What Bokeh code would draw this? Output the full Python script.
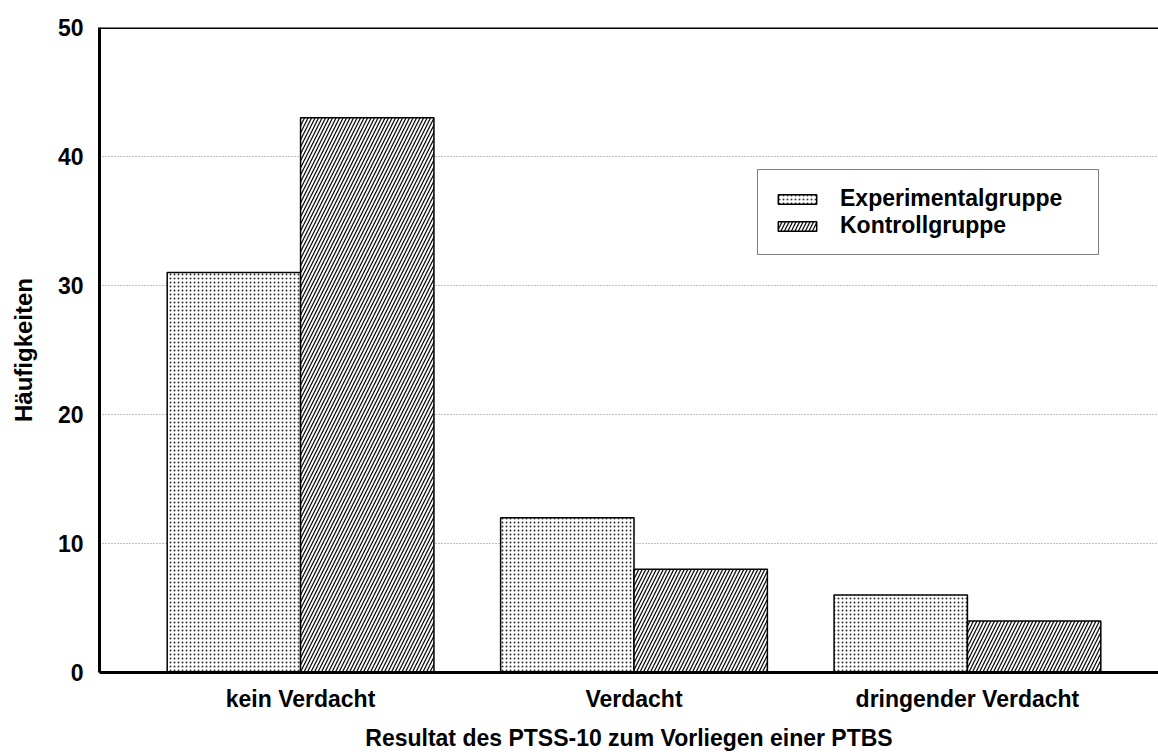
from bokeh.plotting import figure
from bokeh.models import (Range1d, FixedTicker, Span, Legend, LegendItem, ColumnDataSource)
from bokeh.embed import file_html
from bokeh.resources import INLINE

categories = ["kein Verdacht", "Verdacht", "dringender Verdacht"]
experimental = [31, 12, 6]
kontroll = [43, 8, 4]
series_names = ["Experimentalgruppe", "Kontrollgruppe"]
y_ticks = [0, 10, 20, 30, 40, 50]
x_title = "Resultat des PTSS-10 zum Vorliegen einer PTBS"
y_title = "Häufigkeiten"

FONT = "Liberation Sans"
idx = list(range(len(categories)))
bar_w = 0.4

p = figure(width=1158, height=756, output_backend="svg", toolbar_location=None,
           x_range=Range1d(-0.603, 2.573), y_range=Range1d(0, 50),
           min_border_left=99, min_border_right=0, min_border_top=27, min_border_bottom=84)
p.outline_line_color = None
p.background_fill_color = "white"
p.border_fill_color = "white"

src_e = ColumnDataSource(dict(x=[i - bar_w / 2 for i in idx], top=experimental))
src_k = ColumnDataSource(dict(x=[i + bar_w / 2 for i in idx], top=kontroll))

r1 = p.vbar(x="x", top="top", bottom=0, width=bar_w, source=src_e,
            fill_color="white", line_color="black", line_width=1.5,
            hatch_pattern="dot", hatch_scale=4, hatch_color="#333333", hatch_weight=1)
r2 = p.vbar(x="x", top="top", bottom=0, width=bar_w, source=src_k,
            fill_color="white", line_color="black", line_width=1.5,
            hatch_pattern="right_diagonal_line", hatch_scale=7, hatch_color="#111111", hatch_weight=1.3)

# axes
p.xaxis.ticker = FixedTicker(ticks=idx)
p.xaxis.major_label_overrides = {i: c for i, c in zip(idx, categories)}
p.yaxis.ticker = FixedTicker(ticks=y_ticks)
for ax in (p.xaxis[0], p.yaxis[0]):
    ax.axis_line_width = 3
    ax.axis_line_color = "black"
    ax.major_tick_line_color = None
    ax.minor_tick_line_color = None
    ax.major_label_text_font = FONT
    ax.major_label_text_font_style = "bold"
    ax.major_label_text_font_size = "23px"
    ax.major_label_text_color = "black"
    ax.axis_label_text_font = FONT
    ax.axis_label_text_font_style = "bold"
    ax.axis_label_text_font_size = "23px"
    ax.axis_label_text_color = "black"
p.yaxis.axis_label_text_font_size = "24px"
p.xaxis.axis_label = x_title
p.yaxis.axis_label = y_title
p.xaxis.major_label_standoff = 7
p.xaxis.axis_label_standoff = 10
p.yaxis.major_label_standoff = 10
p.yaxis.axis_label_standoff = 18

p.xgrid.grid_line_color = None
p.ygrid.grid_line_color = "#808080"
p.ygrid.grid_line_dash = "1 2"
p.ygrid.grid_line_width = 1

p.add_layout(Span(location=50, dimension="width", line_color="black", line_width=3))

legend = Legend(items=[LegendItem(label=series_names[0], renderers=[r1]),
                       LegendItem(label=series_names[1], renderers=[r2])],
                location=(658, 417), orientation="vertical",
                glyph_width=48, glyph_height=12, label_standoff=19,
                label_width=243, label_height=24, spacing=0, padding=15, margin=0,
                border_line_color="black", border_line_width=1,
                background_fill_color="white", background_fill_alpha=1,
                label_text_font=FONT, label_text_font_style="bold",
                label_text_font_size="23px", label_text_color="black")
p.add_layout(legend, "center")

open("out.html", "w").write(file_html(p, INLINE))
